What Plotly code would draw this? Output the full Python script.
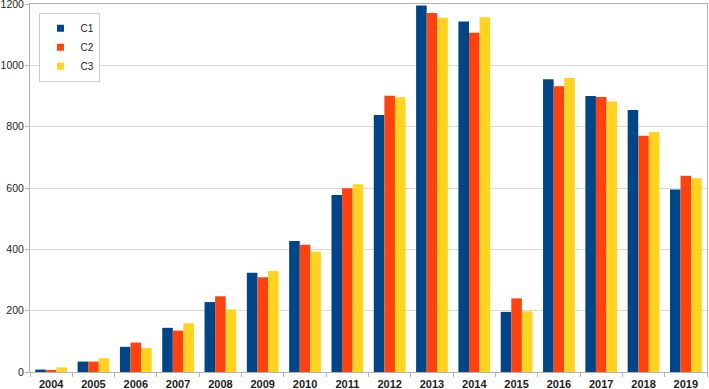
import plotly.graph_objects as go

years = ["2004", "2005", "2006", "2007", "2008", "2009", "2010", "2011",
         "2012", "2013", "2014", "2015", "2016", "2017", "2018", "2019"]
c1 = [8, 34, 82, 144, 228, 324, 427, 577, 838, 1195, 1143, 196, 955, 900, 854, 595]
c2 = [6, 34, 96, 135, 247, 309, 415, 599, 901, 1171, 1106, 240, 932, 897, 770, 640]
c3 = [15, 45, 78, 159, 204, 329, 393, 612, 896, 1155, 1157, 198, 959, 882, 783, 632]

series = [("C1", c1, "#004586"), ("C2", c2, "#ff420e"), ("C3", c3, "#ffd320")]

fig = go.Figure()
for name, vals, col in series:
    fig.add_trace(go.Bar(x=years, y=vals, name=name, marker_color=col,
                         marker_line_width=0, showlegend=False))
for name, vals, col in series:
    fig.add_trace(go.Scatter(x=[None], y=[None], mode="markers", name=name,
                             marker=dict(symbol="square", size=7, color=col)))

fig.update_layout(
    width=709, height=389,
    margin=dict(l=30, r=2, t=4, b=17, autoexpand=False),
    paper_bgcolor="white", plot_bgcolor="white",
    barmode="group", bargap=0.25, bargroupgap=0,
    font=dict(family="Liberation Sans, Arial, sans-serif", size=11, color="#222"),
    legend=dict(x=0.014, y=0.976, xanchor="left", yanchor="top",
                bordercolor="#cccccc", borderwidth=1, bgcolor="white",
                font=dict(size=10, color="#222"), itemwidth=30,
                tracegroupgap=0),
    showlegend=True,
)
fig.update_xaxes(type="category", showgrid=False, showline=True, linecolor="#b3b3b3",
                 linewidth=1, mirror=True, ticks="outside", ticklen=4, tickcolor="#b3b3b3",
                 tickson="boundaries", tickfont=dict(size=11, color="#222",
                 family="Liberation Sans, Arial, sans-serif", weight="bold"),
                 ticklabelstandoff=2, automargin=False)
fig.update_yaxes(range=[0, 1200], dtick=200, showgrid=True, gridcolor="#d9d9d9",
                 showline=True, linecolor="#b3b3b3", mirror=True, ticks="outside",
                 ticklen=4, tickcolor="#b3b3b3", zeroline=False,
                 tickfont=dict(size=10.5, color="#222"), ticklabeloverflow="allow",
                 ticklabelstandoff=-1, automargin=False)

fig.write_html("out.html", config={"displayModeBar": False},
               post_script="document.body.style.margin='0';document.body.style.overflow='hidden';")
